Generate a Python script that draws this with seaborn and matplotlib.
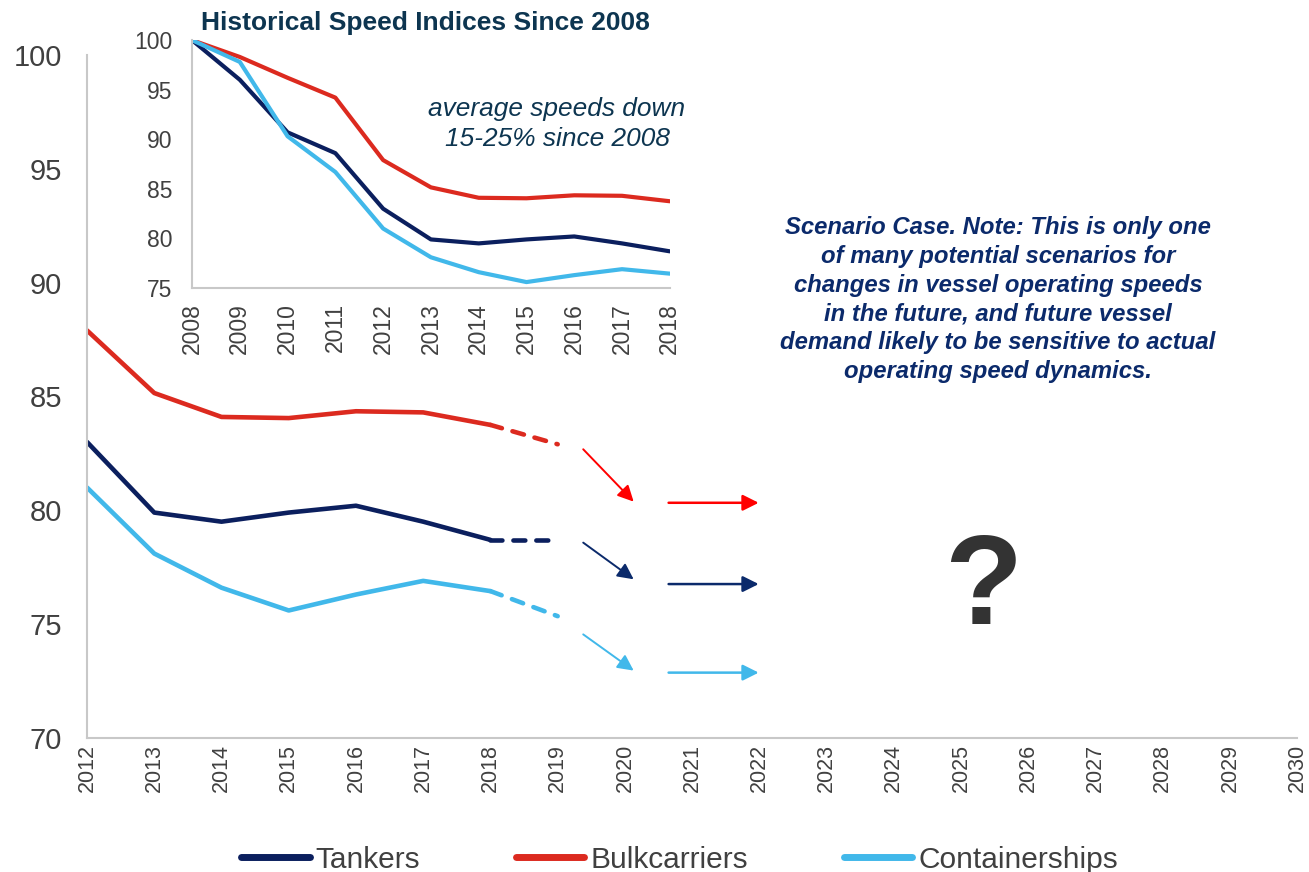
import matplotlib
matplotlib.use("Agg")
import matplotlib.pyplot as plt
from matplotlib.lines import Line2D
import pandas as pd
import seaborn as sns

# Speed indices (2008 = 100)
years = [2008, 2009, 2010, 2011, 2012, 2013, 2014, 2015, 2016, 2017, 2018]
tankers = [100, 96.0, 90.7, 88.6, 83.0, 79.9, 79.5, 79.9, 80.2, 79.5, 78.7]
bulkcarriers = [100, 98.3, 96.2, 94.2, 87.9, 85.15, 84.1, 84.05, 84.35, 84.3, 83.75]
containerships = [100, 97.8, 90.3, 86.7, 81.0, 78.1, 76.6, 75.6, 76.3, 76.9, 76.45]

# Short projection to 2019
proj_years = [2018, 2019]
tankers_proj = [78.7, 78.7]
bulkcarriers_proj = [83.75, 82.9]
containerships_proj = [76.45, 75.35]

# Scenario arrows: (x_start, y_start, x_end, y_end)
scenario_diag = {"Bulkcarriers": (2019.38, 82.68, 2020.13, 80.38),
                 "Tankers": (2019.38, 78.58, 2020.13, 76.97),
                 "Containerships": (2019.38, 74.55, 2020.13, 72.96)}
scenario_flat = {"Bulkcarriers": (2020.65, 80.33, 2021.99, 80.33),
                 "Tankers": (2020.65, 76.76, 2021.99, 76.76),
                 "Containerships": (2020.65, 72.87, 2021.99, 72.87)}

main_years = list(range(2012, 2031))
series_names = ["Tankers", "Bulkcarriers", "Containerships"]
line_colors = {"Tankers": "#0b1f5e", "Bulkcarriers": "#dc2a1f", "Containerships": "#41b8ea"}
arrow_colors = {"Tankers": "#0b2a6b", "Bulkcarriers": "#ff0000", "Containerships": "#41b8ea"}

hist = pd.DataFrame({
    "year": years * 3,
    "index": tankers + bulkcarriers + containerships,
    "series": [n for n in series_names for _ in years],
})
proj = pd.DataFrame({
    "year": proj_years * 3,
    "index": tankers_proj + bulkcarriers_proj + containerships_proj,
    "series": [n for n in series_names for _ in proj_years],
})

sns.set_theme(style="white")
plt.rcParams["font.family"] = ["Liberation Sans", "DejaVu Sans"]

text_gray = "#404040"
spine_gray = "#c8c8c8"
title_color = "#0d3550"

fig = plt.figure(figsize=(13.09, 8.72), dpi=100)
ax = fig.add_axes([0.0665, 0.1537, 0.9245, 0.7833])

main = hist[hist["year"] >= 2012]
sns.lineplot(data=main, x="year", y="index", hue="series", hue_order=series_names,
             palette=line_colors, linewidth=3.3, ax=ax, legend=False,
             solid_capstyle="round", solid_joinstyle="round")
for name in series_names:
    sub = proj[proj["series"] == name]
    sns.lineplot(data=sub, x="year", y="index", color=line_colors[name], linewidth=3.3,
                 ax=ax, legend=False, dash_capstyle="round")
    ax.lines[-1].set_dashes([2.6, 2.4])

for name in series_names:
    x0, y0, x1, y1 = scenario_diag[name]
    ax.annotate("", xy=(x1, y1), xytext=(x0, y0),
                arrowprops=dict(arrowstyle="-|>", color=arrow_colors[name], lw=1.4,
                                mutation_scale=24, shrinkA=0, shrinkB=0))
    x0, y0, x1, y1 = scenario_flat[name]
    ax.annotate("", xy=(x1, y1), xytext=(x0, y0),
                arrowprops=dict(arrowstyle="-|>", color=arrow_colors[name], lw=1.8,
                                mutation_scale=24, shrinkA=0, shrinkB=0))

ax.set_xlim(2012, 2030)
ax.set_ylim(70, 100)
ax.set_xticks(main_years)
ax.set_xticklabels([str(y) for y in main_years], rotation=90, fontsize=15.5, color=text_gray)
ax.set_yticks([70, 75, 80, 85, 90, 95, 100])
ax.set_yticklabels(["70", "75", "80", "85", "90", "95", "100"], fontsize=21, color=text_gray)
ax.tick_params(axis="x", length=0, pad=4.5)
ax.tick_params(axis="y", length=0, pad=18)
ax.set_xlabel("")
ax.set_ylabel("")
for side in ["top", "right"]:
    ax.spines[side].set_visible(False)
for side in ["left", "bottom"]:
    ax.spines[side].set_color(spine_gray)
    ax.spines[side].set_linewidth(1.5)

ax.text(2025.55, 92.92,
        "Scenario Case. Note: This is only one\nof many potential scenarios for\n"
        "changes in vessel operating speeds\nin the future, and future vessel\n"
        "demand likely to be sensitive to actual\noperating speed dynamics.",
        ha="center", va="top", fontsize=17.2, fontweight="bold", fontstyle="italic",
        color="#0b2a6b", linespacing=1.32)
ax.text(2025.33, 76.46, "?", ha="center", va="center", fontsize=92, fontweight="bold",
        color="#333333")

# Legend below the axes
handles = [Line2D([0], [0], color=line_colors[n], lw=5, solid_capstyle="round") for n in series_names]
fig.legend(handles, series_names, loc="lower center", bbox_to_anchor=(0.519, -0.033),
           ncol=3, frameon=False, fontsize=21.5, handlelength=2.3, handletextpad=0.2,
           columnspacing=3.2, labelcolor=text_gray)

# Inset: full history since 2008
ins = fig.add_axes([0.1467, 0.6697, 0.365, 0.2843])
ins.set_facecolor("none")
sns.lineplot(data=hist, x="year", y="index", hue="series", hue_order=series_names,
             palette=line_colors, linewidth=3.0, ax=ins, legend=False)
ins.set_xlim(2008, 2018)
ins.set_ylim(75, 100)
ins.set_xticks(years)
ins.set_xticklabels([str(y) for y in years], rotation=90, fontsize=16.5, color=text_gray)
ins.set_yticks([75, 80, 85, 90, 95, 100])
ins.set_yticklabels(["75", "80", "85", "90", "95", "100"], fontsize=16.5, color=text_gray)
ins.tick_params(axis="x", length=0, pad=11)
ins.tick_params(axis="y", length=0, pad=14)
ins.set_xlabel("")
ins.set_ylabel("")
for side in ["top", "right"]:
    ins.spines[side].set_visible(False)
for side in ["left", "bottom"]:
    ins.spines[side].set_color(spine_gray)
    ins.spines[side].set_linewidth(1.5)
fig.text(0.3247, 0.9875, "Historical Speed Indices Since 2008", ha="center", va="top",
         fontsize=19, fontweight="bold", color=title_color)
ins.text(2015.64, 91.5, "average speeds down\n15-25% since 2008", ha="center", va="center",
         fontsize=18.9, fontstyle="italic", color=title_color, linespacing=1.32)

fig.savefig("out.png", dpi=100)
